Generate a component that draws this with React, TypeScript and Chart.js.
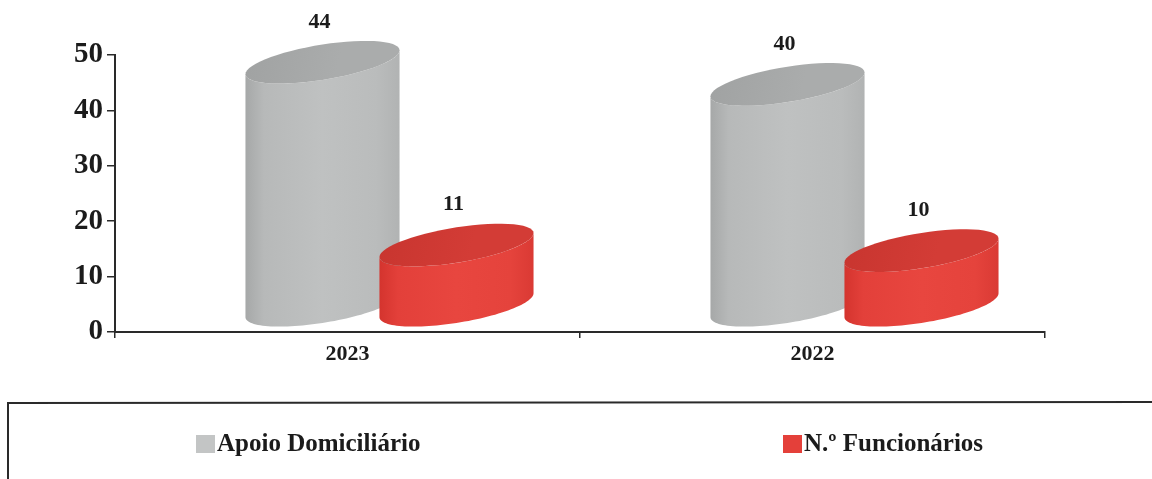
import { useEffect, useRef } from "react";
import { Chart, registerables } from "chart.js";

Chart.register(...registerables);

// ---- data ----
const years = ["2023", "2022"];
const apoioDomiciliario = [44, 40];
const numFuncionarios = [11, 10];
const seriesNames = ["Apoio Domiciliário", "N.º Funcionários"];
const yTickValues = [0, 10, 20, 30, 40, 50];

// ---- style ----
const SERIF = '"Liberation Serif", "Times New Roman", serif';
const INK = "#1b1b1b";
const AXIS = "#2a2a2a";

// oblique 3D look of the columns
const DEPTH_X = 42; // columns sit back from the floor edge, shifted right
const DEPTH_Y = 26; // ...and lifted
const WIDTH_SCALE = 1.15; // cylinders overlap their neighbour slightly
const TILT = 0.155; // right rim higher than left rim (fraction of width)
const FLAT = 0.115; // half-depth of the rim ellipse (fraction of width)

const palette = [
  {
    body: ["#a6a8a8", "#b7b9b9", "#bfc1c1", "#babcbc", "#b1b3b3"],
    top: "#aaacac",
    topEdge: "#a0a2a2",
    swatch: "#c3c5c5",
  },
  {
    body: ["#d4342e", "#e3403a", "#e8463f", "#e5433c", "#da3a34"],
    top: "#d33c36",
    topEdge: "#c8352f",
    swatch: "#e4403a",
  },
];

function rimPoint(cx: number, cy: number, w: number, t: number): [number, number] {
  const a = w / 2;
  const tilt = w * TILT;
  const h = w * FLAT;
  return [cx + a * Math.cos(t), cy - (tilt / 2) * Math.cos(t) - h * Math.sin(t)];
}

function traceArc(
  ctx: CanvasRenderingContext2D,
  cx: number,
  cy: number,
  w: number,
  t0: number,
  t1: number,
  moveFirst: boolean
) {
  const steps = 60;
  for (let s = 0; s <= steps; s++) {
    const t = t0 + ((t1 - t0) * s) / steps;
    const [px, py] = rimPoint(cx, cy, w, t);
    if (s === 0 && moveFirst) ctx.moveTo(px, py);
    else ctx.lineTo(px, py);
  }
}

function drawCylinder(
  ctx: CanvasRenderingContext2D,
  cx: number,
  topY: number,
  botY: number,
  w: number,
  colors: (typeof palette)[number]
) {
  const left = cx - w / 2;
  const right = cx + w / 2;

  // side wall
  const grad = ctx.createLinearGradient(left, 0, right, 0);
  const stops = [0, 0.12, 0.5, 0.85, 1];
  colors.body.forEach((c, i) => grad.addColorStop(stops[i], c));
  ctx.beginPath();
  const [trx, try_] = rimPoint(cx, topY, w, 0);
  ctx.moveTo(trx, try_);
  const [brx, bry] = rimPoint(cx, botY, w, 0);
  ctx.lineTo(brx, bry);
  traceArc(ctx, cx, botY, w, 0, -Math.PI, false);
  const [tlx, tly] = rimPoint(cx, topY, w, -Math.PI);
  ctx.lineTo(tlx, tly);
  traceArc(ctx, cx, topY, w, -Math.PI, 0, false);
  ctx.closePath();
  ctx.fillStyle = grad;
  ctx.fill();

  // top face
  const tg = ctx.createLinearGradient(left, topY - w * FLAT, right, topY + w * FLAT);
  tg.addColorStop(0, colors.topEdge);
  tg.addColorStop(0.6, colors.top);
  tg.addColorStop(1, colors.top);
  ctx.beginPath();
  traceArc(ctx, cx, topY, w, 0, Math.PI * 2, true);
  ctx.closePath();
  ctx.fillStyle = tg;
  ctx.fill();
}

const cylinderPlugin = {
  id: "cylinders",
  beforeDatasetsDraw(chart: any) {
    const ctx: CanvasRenderingContext2D = chart.ctx;
    const labels: { x: number; y: number; text: string }[] = [];
    ctx.save();
    chart.data.datasets.forEach((ds: any, di: number) => {
      const meta = chart.getDatasetMeta(di);
      meta.data.forEach((el: any, i: number) => {
        const { x, y, base, width } = el.getProps(["x", "y", "base", "width"], true);
        const w = width * WIDTH_SCALE;
        const cx = x + DEPTH_X;
        const topY = y - DEPTH_Y;
        const botY = base - DEPTH_Y;
        drawCylinder(ctx, cx, topY, botY, w, palette[di]);
        const amp = Math.hypot((w * TILT) / 2, w * FLAT);
        labels.push({ x: cx - 3, y: topY - amp - 19, text: String(ds.data[i]) });
      });
    });
    ctx.fillStyle = INK;
    ctx.font = `bold 22px ${SERIF}`;
    ctx.textAlign = "center";
    ctx.textBaseline = "middle";
    labels.forEach((l) => ctx.fillText(l.text, l.x, l.y));
    ctx.restore();
    return false;
  },
};

const legendBoxPlugin = {
  id: "legendBox",
  afterDraw(chart: any) {
    const ctx: CanvasRenderingContext2D = chart.ctx;
    const W = chart.width;
    const H = chart.height;
    ctx.save();
    // frame around the legend (open at right and bottom edges of the canvas)
    ctx.strokeStyle = AXIS;
    ctx.lineWidth = 2;
    ctx.beginPath();
    ctx.moveTo(8, H + 4);
    ctx.lineTo(8, 403);
    ctx.lineTo(W + 4, 402);
    ctx.stroke();

    const itemX = [196, 783];
    ctx.font = `bold 25px ${SERIF}`;
    ctx.textBaseline = "middle";
    ctx.textAlign = "left";
    chart.data.datasets.forEach((ds: any, di: number) => {
      const x = itemX[di];
      ctx.fillStyle = palette[di].swatch;
      ctx.fillRect(x, 435, 19, 18);
      ctx.fillStyle = INK;
      ctx.fillText(ds.label, x + 21, 445);
    });
    ctx.restore();
  },
};

export default function App() {
  const canvasRef = useRef<HTMLCanvasElement | null>(null);

  useEffect(() => {
    document.body.style.margin = "0";
    document.body.style.background = "#ffffff";
    const canvas = canvasRef.current;
    if (!canvas) return;

    const chart = new Chart(canvas, {
      type: "bar",
      data: {
        labels: years,
        datasets: [
          {
            label: seriesNames[0],
            data: apoioDomiciliario,
            backgroundColor: palette[0].swatch,
            categoryPercentage: 0.5763,
            barPercentage: 1,
          },
          {
            label: seriesNames[1],
            data: numFuncionarios,
            backgroundColor: palette[1].swatch,
            categoryPercentage: 0.5763,
            barPercentage: 1,
          },
        ],
      },
      options: {
        responsive: false,
        animation: false,
        devicePixelRatio: 1,
        layout: { padding: { left: 0, right: 107, top: 55, bottom: 107 } },
        plugins: {
          legend: { display: false },
          tooltip: { enabled: false },
          title: { display: false },
        },
        scales: {
          x: {
            type: "category",
            afterFit: (scale: any) => {
              scale.height = 40;
            },
            grid: {
              offset: true,
              drawOnChartArea: false,
              drawTicks: true,
              tickLength: 6,
              color: AXIS,
              lineWidth: 1.5,
            },
            border: { display: true, color: AXIS, width: 2 },
            ticks: {
              color: INK,
              font: { family: SERIF, size: 22, weight: "bold" },
              padding: 3,
            },
          },
          y: {
            min: 0,
            max: 50,
            afterFit: (scale: any) => {
              scale.width = 115;
            },
            afterBuildTicks: (scale: any) => {
              scale.ticks = yTickValues.map((v) => ({ value: v }));
            },
            grid: {
              drawOnChartArea: false,
              drawTicks: true,
              tickLength: 8,
              color: AXIS,
              lineWidth: 1.5,
            },
            border: { display: true, color: AXIS, width: 2 },
            ticks: {
              color: INK,
              font: { family: SERIF, size: 29, weight: "bold" },
              padding: 4,
            },
          },
        },
      },
      plugins: [cylinderPlugin, legendBoxPlugin],
    });

    return () => chart.destroy();
  }, []);

  return (
    <div style={{ width: 1152, height: 479, background: "#ffffff" }}>
      <canvas ref={canvasRef} width={1152} height={479} style={{ display: "block" }} />
    </div>
  );
}
